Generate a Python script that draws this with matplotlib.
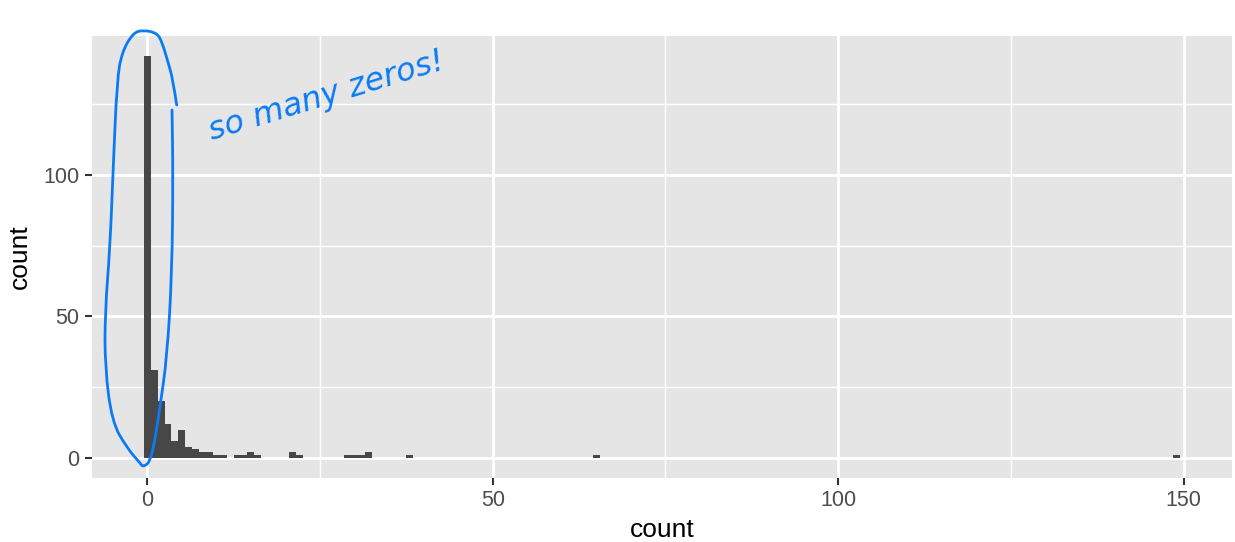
import matplotlib
matplotlib.use('Agg')
import matplotlib.pyplot as plt
from matplotlib.path import Path
from matplotlib.patches import PathPatch

# histogram bins (binwidth 1, centred on integers) and their counts
bin_centers = [0, 1, 2, 3, 4, 5, 6, 7, 8, 9, 10, 11, 13, 14, 15, 16,
               21, 22, 29, 30, 31, 32, 38, 65, 149]
bin_counts = [142, 31, 20, 12, 6, 10, 4, 3, 2, 2, 1, 1, 1, 1, 2, 1,
              2, 1, 1, 1, 1, 2, 1, 1, 1]

x_ticks = [0, 50, 100, 150]
y_ticks = [0, 50, 100]

# hand-drawn loop around the zero bar (figure pixels)
loop_px = [(176.7, 105), (173, 80), (168, 62), (162, 42), (157, 33), (143, 30),
           (133, 33), (122, 52), (117, 80), (113, 173), (110, 247), (105, 313),
           (105, 367), (112, 422), (127, 448), (140, 463), (143, 467), (150, 462),
           (155, 440), (160, 407), (167, 357), (172, 273), (173, 173), (172, 110)]

plt.rcParams['font.family'] = ['Liberation Sans', 'DejaVu Sans']

W, H = 1235, 542
fig = plt.figure(figsize=(W / 100, H / 100), dpi=100)
ax = fig.add_axes([92 / W, 1 - 478 / H, (1232 - 92) / W, (478 - 36) / H])

ax.set_facecolor('#E5E5E5')
ax.bar(bin_centers, bin_counts, width=1.0, color='#474747', zorder=3)

ax.set_xlim(-8, 157)
ymax = max(bin_counts)
ax.set_ylim(-0.05 * ymax, 1.05 * ymax)

ax.set_xticks(x_ticks)
ax.set_yticks(y_ticks)
ax.set_xticks([25, 75, 125], minor=True)
ax.set_yticks([25, 75, 125], minor=True)
ax.grid(which='major', color='white', linewidth=2.0, zorder=1)
ax.grid(which='minor', color='white', linewidth=1.0, zorder=1)
ax.tick_params(which='major', length=5, width=1.5, color='#333333',
               labelsize=15.5, labelcolor='#4D4D4D', pad=4)
ax.tick_params(which='minor', length=0)
for s in ax.spines.values():
    s.set_visible(False)

ax.set_xlabel('count', fontsize=19, labelpad=5)
ax.set_ylabel('count', fontsize=19, labelpad=8)

# blue annotation: smooth curve through the loop points (quadratic midpoints)
pts = [(x / W, 1 - y / H) for x, y in loop_px]
verts = [pts[0]]
codes = [Path.MOVETO]
for i in range(1, len(pts) - 1):
    mid = ((pts[i][0] + pts[i + 1][0]) / 2, (pts[i][1] + pts[i + 1][1]) / 2)
    verts += [pts[i], mid]
    codes += [Path.CURVE3, Path.CURVE3]
verts.append(pts[-1])
codes.append(Path.LINETO)
fig.add_artist(PathPatch(Path(verts, codes), fill=False, edgecolor='#0A7BF5',
                         linewidth=2.0, capstyle='round',
                         transform=fig.transFigure))
fig.text(212 / W, 1 - 140 / H, 'so many zeros!', color='#0A7BF5',
         fontsize=23, fontstyle='italic', family=['DejaVu Sans'],
         rotation=17, rotation_mode='anchor', ha='left', va='baseline')

fig.savefig('out.png', dpi=100)
